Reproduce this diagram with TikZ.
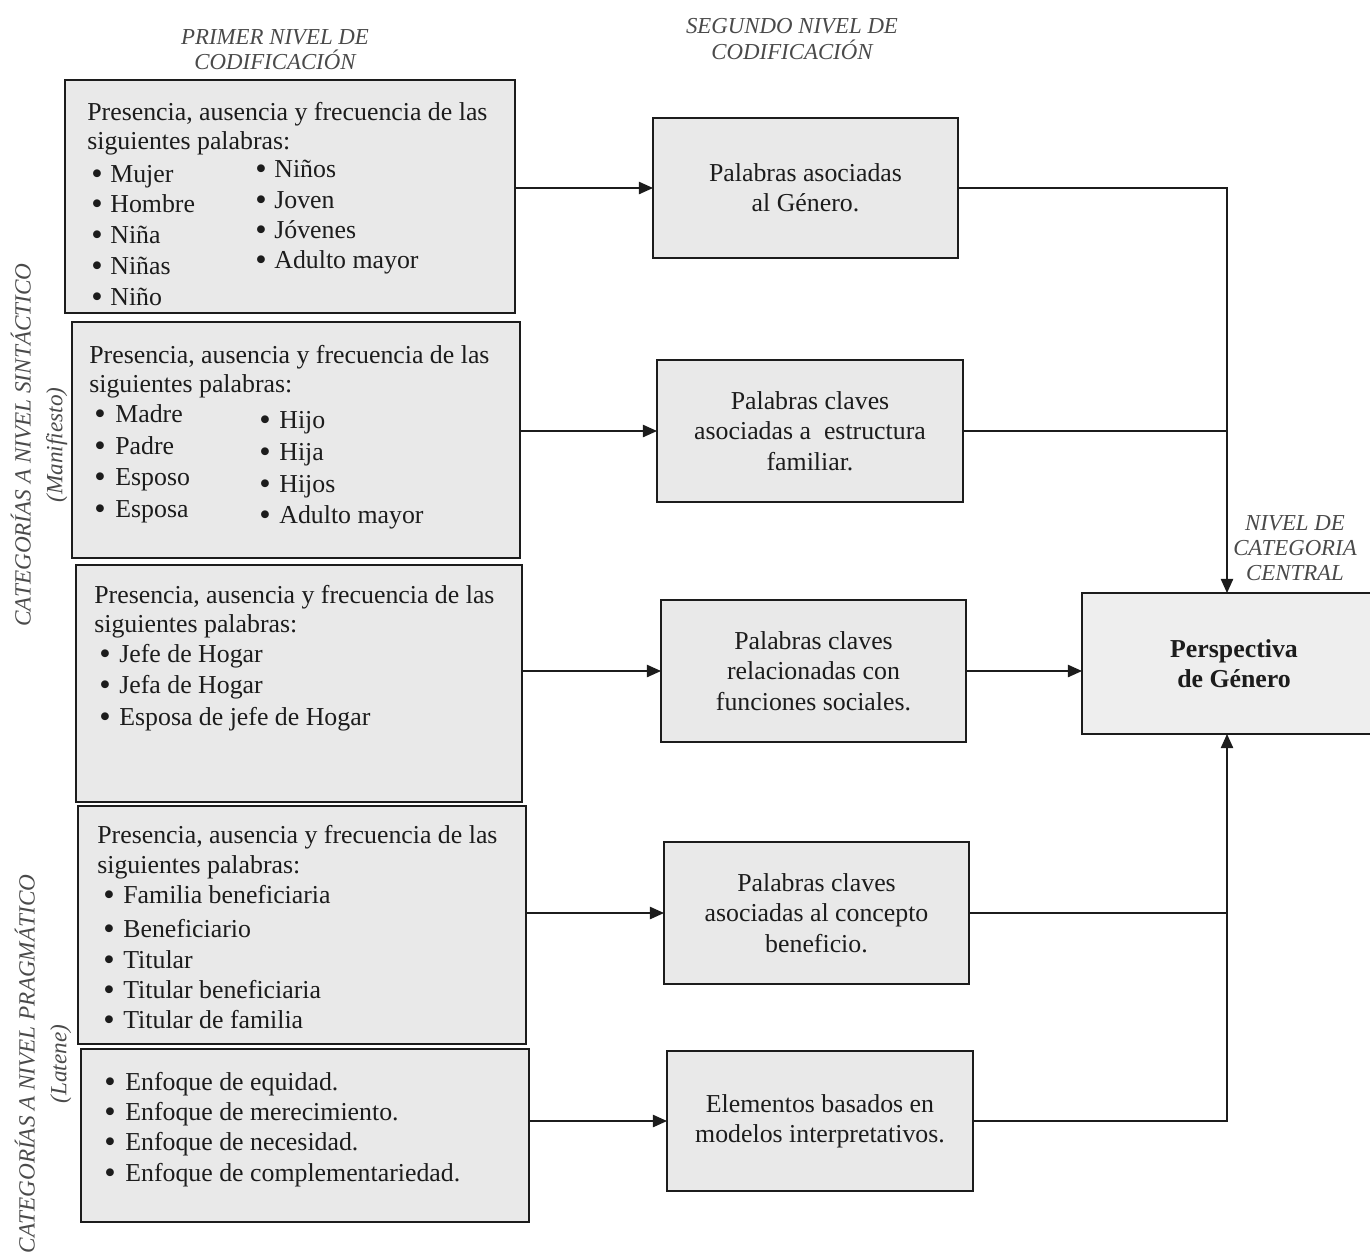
\documentclass[tikz,border=0pt]{standalone}
\usepackage{fontspec}
\setmainfont{Liberation Serif}
\usetikzlibrary{arrows.meta,fit}
\definecolor{boxfill}{HTML}{E9E9E9}
\definecolor{cfill}{HTML}{EEEEEE}
\definecolor{ink}{HTML}{1C1C1C}
\definecolor{lab}{HTML}{4A4A4A}
\tikzset{
  box/.style={draw=ink, line width=1.2pt, fill=boxfill, inner sep=0pt, outer sep=0pt},
  txt/.style={anchor=base west, inner sep=0pt, text=ink, font=\fontsize{14.7}{17.3}\selectfont},
  bul/.style={anchor=base west, inner sep=0pt, text=ink, font=\fontsize{18.5}{18.5}\selectfont, yshift=-1.4pt},
  ctxt/.style={align=center, inner sep=0pt, text=ink, font=\fontsize{14.7}{17.3}\selectfont},
  hdr/.style={align=center, inner sep=0pt, text=lab, font=\fontsize{13}{14.3}\selectfont\itshape},
  side/.style={align=center, inner sep=0pt, text=lab, rotate=90, font=\fontsize{13.2}{18}\selectfont\itshape},
  conn/.style={draw=ink, line width=0.8pt},
  arr/.style={conn, -{Triangle[length=8pt,width=7pt]}},
}
\newcommand\bitem[5]{%
  \node[bul] (#1d) at (#2,#4) {•};
  \node[txt] (#1) at (#3,#4) {#5};}
\begin{document}
\begin{tikzpicture}[x=0.02cm,y=-0.02cm]
\useasboundingbox (0,0) rectangle (1370,1259);

% headers
\node[hdr] (h1) at (275,50) {PRIMER NIVEL DE\\CODIFICACIÓN};
\node[hdr] (h2) at (792,39) {SEGUNDO NIVEL DE\\CODIFICACIÓN};
\node[hdr] (h3) at (1295,548) {NIVEL DE\\CATEGORIA\\CENTRAL};
\node[side] (l1) at (39,445) {CATEGORÍAS A NIVEL SINTÁCTICO\\(Manifiesto)};
\node[side] (l2) at (43,1064) {CATEGORÍAS A NIVEL PRAGMÁTICO\\(Latene)};

% first-level boxes
\node[box, fit={(65,80) (515,313)}] (a1) {};
\node[box, fit={(72,322) (520,558)}] (a2) {};
\node[box, fit={(76,565) (522,802)}] (a3) {};
\node[box, fit={(78,806) (526,1044)}] (a4) {};
\node[box, fit={(81,1049) (529,1222)}] (a5) {};

% second-level boxes
\node[box, fit={(653,118) (958,258)}] (b1) {};
\node[box, fit={(657,360) (963,502)}] (b2) {};
\node[box, fit={(661,600) (966,742)}] (b3) {};
\node[box, fit={(664,842) (969,984)}] (b4) {};
\node[box, fit={(667,1051) (973,1191)}] (b5) {};

% central box
\node[box, fill=cfill, fit={(1082,593) (1372,734)}] (c) {};

% box 1 text
\node[txt] (t1a) at (87,120) {Presencia, ausencia y frecuencia de las};
\node[txt] (t1b) at (87,149) {siguientes palabras:};
\bitem{i11}{91}{110}{182}{Mujer}
\bitem{i12}{91}{110}{212}{Hombre}
\bitem{i13}{91}{110}{243}{Niña}
\bitem{i14}{91}{110}{274}{Niñas}
\bitem{i15}{91}{110}{305}{Niño}
\bitem{i16}{255}{274}{177}{Niños}
\bitem{i17}{255}{274}{208}{Joven}
\bitem{i18}{255}{274}{238}{Jóvenes}
\bitem{i19}{255}{274}{268}{Adulto mayor}

% box 2 text
\node[txt] (t2a) at (89,363) {Presencia, ausencia y frecuencia de las};
\node[txt] (t2b) at (89,392) {siguientes palabras:};
\bitem{i21}{94}{115}{422}{Madre}
\bitem{i22}{94}{115}{454}{Padre}
\bitem{i23}{94}{115}{485}{Esposo}
\bitem{i24}{94}{115}{517}{Esposa}
\bitem{i25}{259}{279}{428}{Hijo}
\bitem{i26}{259}{279}{460}{Hija}
\bitem{i27}{259}{279}{492}{Hijos}
\bitem{i28}{259}{279}{523}{Adulto mayor}

% box 3 text
\node[txt] (t3a) at (94,603) {Presencia, ausencia y frecuencia de las};
\node[txt] (t3b) at (94,632) {siguientes palabras:};
\bitem{i31}{99}{119}{662}{Jefe de Hogar}
\bitem{i32}{99}{119}{693}{Jefa de Hogar}
\bitem{i33}{99}{119}{725}{Esposa de jefe de Hogar}

% box 4 text
\node[txt] (t4a) at (97,843) {Presencia, ausencia y frecuencia de las};
\node[txt] (t4b) at (97,873) {siguientes palabras:};
\bitem{i41}{103}{123}{903}{Familia beneficiaria}
\bitem{i42}{103}{123}{937}{Beneficiario}
\bitem{i43}{103}{123}{968}{Titular}
\bitem{i44}{103}{123}{998}{Titular beneficiaria}
\bitem{i45}{103}{123}{1028}{Titular de familia}

% box 5 text
\bitem{i51}{104}{125}{1090}{Enfoque de equidad.}
\bitem{i52}{104}{125}{1120}{Enfoque de merecimiento.}
\bitem{i53}{104}{125}{1150}{Enfoque de necesidad.}
\bitem{i54}{104}{125}{1181}{Enfoque de complementariedad.}

% second-level texts
\node[ctxt] (s1) at (b1.center) {Palabras asociadas\\al Género.};
\node[ctxt] (s2) at (b2.center) {Palabras claves\\asociadas a\ \ estructura\\familiar.};
\node[ctxt] (s3) at (b3.center) {Palabras claves\\relacionadas con\\funciones sociales.};
\node[ctxt] (s4) at (b4.center) {Palabras claves\\asociadas al concepto\\beneficio.};
\node[ctxt] (s5) at (b5.center) {Elementos basados en\\modelos interpretativos.};
\node[ctxt, font=\fontsize{14.7}{17.3}\selectfont\bfseries] (s6) at ([xshift=4pt]c.center) {Perspectiva\\de Género};

% connectors first -> second level
\draw[arr] (a1.east |- b1.west) -- (b1.west);
\draw[arr] (a2.east |- b2.west) -- (b2.west);
\draw[arr] (a3.east |- b3.west) -- (b3.west);
\draw[arr] (a4.east |- b4.west) -- (b4.west);
\draw[arr] (a5.east |- b5.west) -- (b5.west);

% connectors second level -> central
\draw[arr] (b1.east) -| (c.north);
\draw[conn] (b2.east) -- (b2.east -| c.north);
\draw[arr] (b3.east) -- (b3.east -| c.west);
\draw[conn] (b4.east) -- (b4.east -| c.south);
\draw[arr] (b5.east) -| (c.south);
\end{tikzpicture}
\end{document}
